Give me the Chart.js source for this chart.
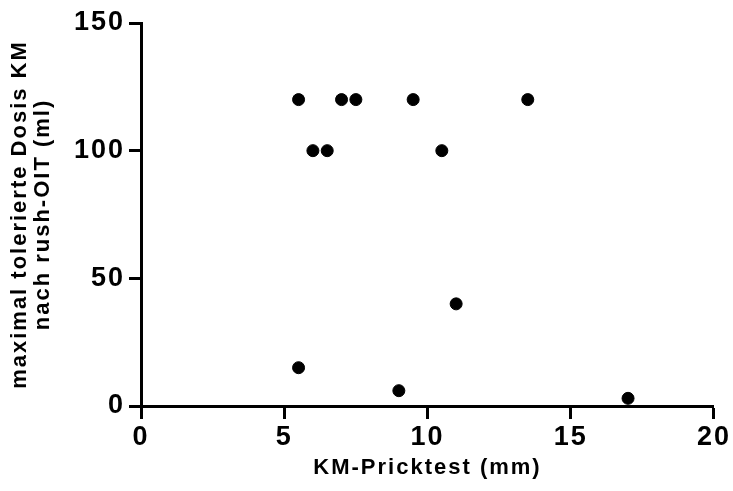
<!DOCTYPE html>
<html>
<head>
<meta charset="utf-8">
<script src="https://cdn.jsdelivr.net/npm/chart.js@4"></script>
<style>
  html, body { margin: 0; padding: 0; background: #fff; }
  #wrap { width: 733px; height: 491px; }
</style>
</head>
<body>
<div id="wrap"><canvas id="scatter"></canvas></div>
<script>
// data
const pricktestMm = [5.5, 7, 7.5, 9.5, 13.5, 6, 6.5, 10.5, 11, 5.5, 9, 17];
const dosisMl = [120, 120, 120, 120, 120, 100, 100, 100, 40, 15, 6, 3];
const xTicks = [0, 5, 10, 15, 20];
const yTicks = [0, 50, 100, 150];

const points = pricktestMm.map((x, i) => ({ x: x, y: dosisMl[i] }));

const axisFont = { family: 'Liberation Sans', weight: 'bold', size: 27 };
const titleFont = { family: 'Liberation Sans', weight: 'bold', size: 22, lineHeight: 1.05 };

// the original export has a bit of spacing between letters
const letterSpacing = {
  id: 'letterSpacing',
  beforeLayout(chart) { chart.ctx.letterSpacing = '2px'; },
  beforeDraw(chart) { chart.ctx.letterSpacing = '2px'; }
};

const ctx = document.getElementById('scatter').getContext('2d');
new Chart(ctx, {
  type: 'scatter',
  data: {
    datasets: [{
      data: points,
      backgroundColor: '#000',
      borderColor: '#000',
      pointRadius: 6,
      pointHoverRadius: 6
    }]
  },
  options: {
    responsive: true,
    maintainAspectRatio: false,
    animation: false,
    layout: { padding: { top: 23, right: 17, left: 0, bottom: 0 } },
    plugins: { legend: { display: false }, tooltip: { enabled: false } },
    scales: {
      x: {
        type: 'linear',
        min: xTicks[0],
        max: xTicks[xTicks.length - 1],
        afterBuildTicks: s => { s.ticks = xTicks.map(v => ({ value: v })); },
        afterFit: s => { s.height = 85; },
        border: { color: '#000', width: 3 },
        grid: { drawOnChartArea: false, tickLength: 13, tickWidth: 3, tickColor: '#000' },
        ticks: { color: '#000', font: axisFont, padding: 2 },
        title: { display: true, text: 'KM-Pricktest (mm)', color: '#000', font: titleFont, padding: { top: 0, bottom: 12 } }
      },
      y: {
        type: 'linear',
        min: yTicks[0],
        max: yTicks[yTicks.length - 1],
        afterBuildTicks: s => { s.ticks = yTicks.map(v => ({ value: v })); },
        afterFit: s => { s.width = 141; },
        border: { color: '#000', width: 3 },
        grid: { drawOnChartArea: false, tickLength: 12, tickWidth: 3, tickColor: '#000' },
        ticks: { color: '#000', font: axisFont, padding: 4 },
        title: {
          display: true,
          text: ['maximal tolerierte Dosis KM', 'nach rush-OIT (ml)'],
          color: '#000',
          font: titleFont,
          padding: { top: 8, bottom: 0 }
        }
      }
    }
  },
  plugins: [letterSpacing]
});
</script>
</body>
</html>
